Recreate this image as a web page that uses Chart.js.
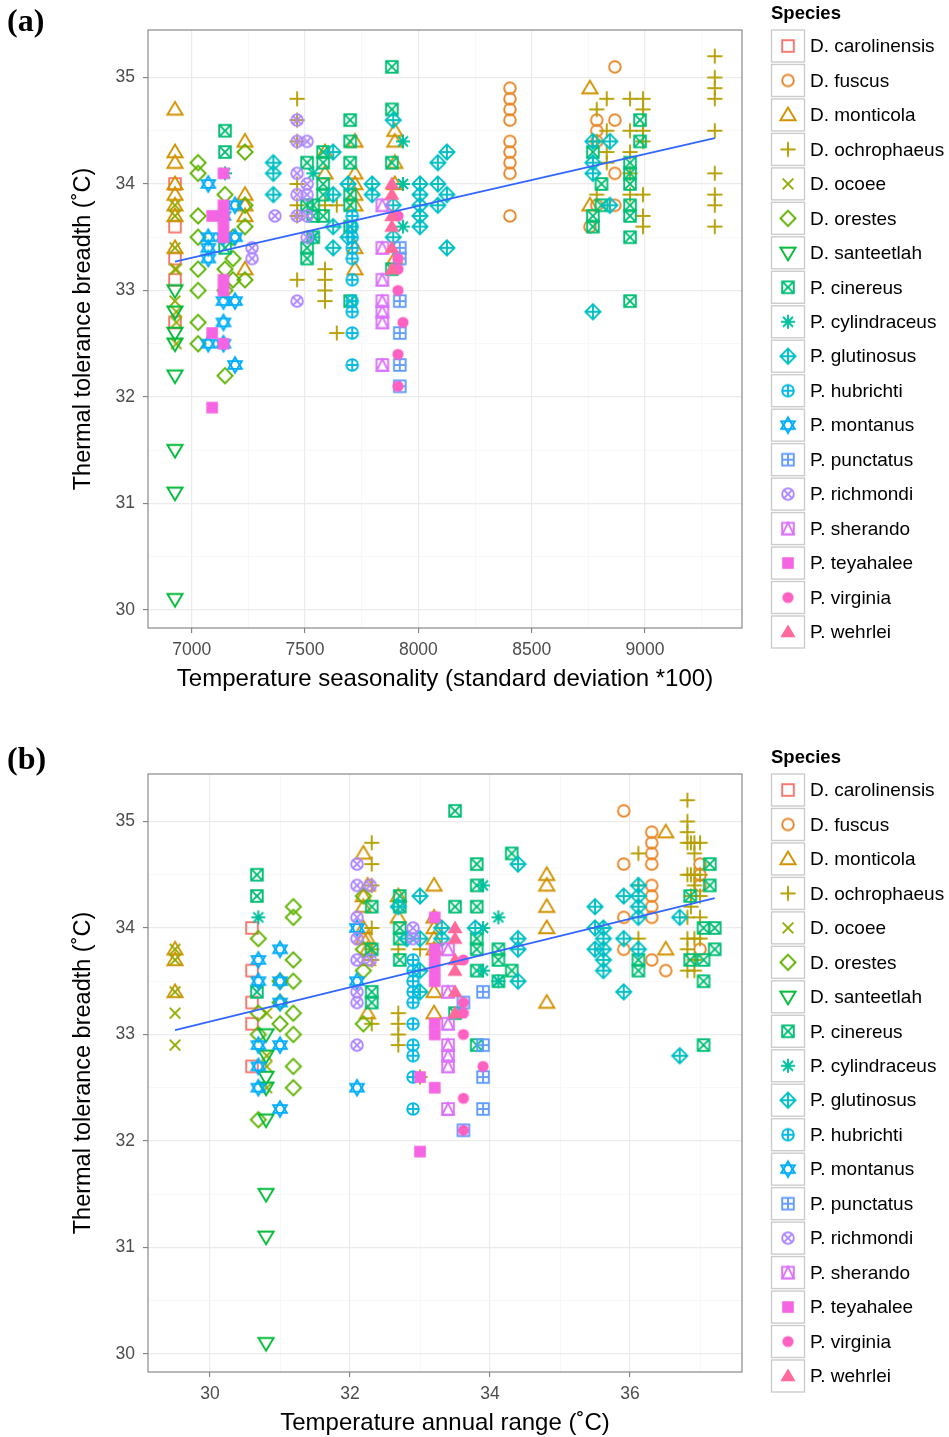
<!DOCTYPE html>
<html>
<head>
<meta charset="utf-8">
<script src="https://cdn.jsdelivr.net/npm/chart.js@4.4.1/dist/chart.umd.min.js"></script>
<style>
  html, body { margin: 0; padding: 0; background: #fff; overflow: hidden; }
  .panel { position: absolute; left: 0; width: 949px; height: 744px; }
  .tag { position: absolute; left: 7px; font: bold 32px "Liberation Serif", "Times New Roman", serif; color: #000; line-height: 1; }
</style>
</head>
<body>
<div class="panel" style="top:0"><canvas id="chartA" width="949" height="744"></canvas></div>
<div class="panel" style="top:744px"><canvas id="chartB" width="949" height="744"></canvas></div>
<div class="tag" style="top:4px">(a)</div>
<div class="tag" style="top:742px">(b)</div>
<script>
// species, colours (ggplot hue palette) and marker codes (R pch 0-17)
const speciesNames = ['D. carolinensis', 'D. fuscus', 'D. monticola', 'D. ochrophaeus', 'D. ocoee',
  'D. orestes', 'D. santeetlah', 'P. cinereus', 'P. cylindraceus', 'P. glutinosus', 'P. hubrichti',
  'P. montanus', 'P. punctatus', 'P. richmondi', 'P. sherando', 'P. teyahalee', 'P. virginia', 'P. wehrlei'];
const speciesColors = ['#F8766D', '#E88526', '#D39200', '#B79F00', '#93AA00', '#5EB300', '#00BA38',
  '#00BF74', '#00C19F', '#00BFC4', '#00B9E3', '#00ADFA', '#619CFF', '#AE87FF', '#DB72FB', '#F564E3',
  '#FF61C3', '#FF699C'];

// axis ticks
const seasonTicks = [7000, 7500, 8000, 8500, 9000];
const rangeTicks = [30, 32, 34, 36];
const breadthTicks = [30, 31, 32, 33, 34, 35];

// (a) temperature seasonality: [site x, [breadth values]]
const seasonCarolinensis = [[6926, [34.0, 33.6, 33.3, 33.1, 32.7]]];
const seasonFuscus = [[8404, [34.9, 34.8, 34.7, 34.6, 34.4, 34.3, 34.2, 34.1, 33.7]], [8757, [33.6]],
  [8787, [34.6, 34.5, 34.4, 33.8]], [8867, [35.1, 34.6, 34.1, 33.8]]];
const seasonMonticola = [[6926, [34.7, 34.3, 34.2, 34.0, 33.9]], [6926, [33.8, 33.7, 33.4]],
  [7235, [34.4, 33.9, 33.8, 33.7, 33.2]], [7588, [34.3, 34.1]], [7720, [34.4, 34.1, 34.0, 33.9, 33.8, 33.4, 33.2]],
  [7896, [34.5, 34.4, 34.2, 34.0, 33.3]], [8757, [34.9, 33.8]]];
const seasonOchrophaeus = [[7465, [34.8, 34.6, 34.4, 34.0, 33.8, 33.7, 33.1]], [7588, [33.8, 33.2, 33.1, 33.0, 32.9]],
  [7640, [33.8, 32.6]], [8787, [34.7, 34.4, 33.9]], [8831, [34.8, 34.5, 34.3, 34.2]],
  [8934, [34.8, 34.5, 34.3, 34.1, 33.9]], [8991, [34.8, 34.7, 34.5, 34.4, 33.9, 33.7, 33.6]],
  [9308, [35.2, 35.0, 34.9, 34.8, 34.5, 34.1, 33.9, 33.8, 33.6]]];
const seasonOcoee = [[6926, [33.8, 33.7, 33.4, 33.2, 32.9]], [6932, [33.2, 32.8, 32.7, 32.5]]];
const seasonOrestes = [[7028, [34.2, 34.1, 33.7, 33.5, 33.2, 33.0, 32.7, 32.5]], [7147, [33.9, 33.2, 33.0, 32.2]],
  [7182, [33.5, 33.3, 33.1]], [7235, [34.3, 33.8, 33.6, 33.1]]];
const seasonSanteetlah = [[6926, [33.0, 32.8, 32.6, 32.5, 32.2, 31.5, 31.1, 30.1]]];
const seasonCinereus = [[7147, [34.5, 34.3, 33.4]], [7509, [34.2, 33.8, 33.4, 33.3]], [7536, [33.8, 33.7, 33.5]],
  [7580, [34.3, 34.2, 34.0, 33.9, 33.7]], [7699, [34.6, 34.4, 34.2, 33.9, 33.8, 33.6, 32.9]],
  [7883, [35.1, 34.7, 34.2, 33.2]], [8770, [34.3, 33.7, 33.6]], [8808, [34.0, 33.8]],
  [8934, [34.2, 34.1, 34.0, 33.8, 33.7, 33.5, 32.9]], [8978, [34.6, 34.4]]];
const seasonCylindraceus = [[7147, [34.1]], [7536, [34.1, 33.5]], [7932, [34.4, 34.0, 33.6]]];
const seasonGlutinosus = [[7360, [34.2, 34.1, 33.9]], [7624, [34.3, 33.9, 33.6, 33.4]], [7690, [34.0, 33.5]],
  [7796, [34.0, 33.9]], [7889, [34.6, 33.8, 33.5]], [8007, [34.0, 33.9, 33.8, 33.7, 33.6]],
  [8086, [34.2, 34.0, 33.8]], [8126, [34.3, 33.9, 33.4]], [8770, [34.4, 34.2, 34.1, 32.8]], [8845, [34.4, 33.8]]];
const seasonHubrichti = [[7708, [33.7, 33.6, 33.5, 33.4, 33.3, 33.1, 32.9, 32.8, 32.6, 32.3]]];
const seasonMontanus = [[7073, [34.0, 33.5, 33.4, 33.3, 32.5]], [7140, [33.7, 33.5, 32.9, 32.7, 32.5]],
  [7191, [33.8, 33.5, 32.9, 32.3]]];
const seasonPunctatus = [[7918, [33.4, 33.3, 32.9, 32.6, 32.3, 32.1]]];
const seasonRichmondi = [[7266, [33.4, 33.3]], [7367, [33.7]], [7465, [34.6, 34.4, 34.1, 33.9, 33.7, 32.9]],
  [7509, [34.4, 34.0, 33.9, 33.7, 33.5]]];
const seasonSherando = [[7841, [33.8, 33.4, 33.1, 32.9, 32.8, 32.7, 32.3]]];
const seasonTeyahalee = [[7090, [33.7, 32.6, 31.9]], [7140, [34.1, 33.8, 33.7, 33.6, 33.5, 33.1, 33.0, 32.5]]];
const seasonVirginia = [[7910, [33.7, 33.3, 33.2, 33.0, 32.4, 32.1]], [7932, [32.7]]];
const seasonWehrlei = [[7883, [34.0, 33.9, 33.7, 33.6, 33.4, 33.2]]];
const seasonFit = [[6926, 33.27], [9308, 34.43]];

// (b) temperature annual range
const rangeCarolinensis = [[30.6, [34.0, 33.6, 33.3, 33.1, 32.7]]];
const rangeFuscus = [[36.31, [34.9, 34.8, 34.7, 34.6, 34.4, 34.3, 34.2, 34.1, 33.7]], [36.51, [33.6]],
  [37.0, [34.6, 34.5, 34.4, 33.8]], [35.91, [35.1, 34.6, 34.1, 33.8]]];
const rangeMonticola = [[32.19, [34.7, 34.3, 34.2, 34.0, 33.9]], [29.5, [33.8, 33.7, 33.4]],
  [32.25, [34.4, 33.9, 33.8, 33.7, 33.2]], [32.69, [34.3, 34.1]], [33.2, [34.4, 34.1, 34.0, 33.9, 33.8, 33.4, 33.2]],
  [34.81, [34.5, 34.4, 34.2, 34.0, 33.3]], [36.51, [34.9, 33.8]]];
const rangeOchrophaeus = [[32.31, [34.8, 34.6, 34.4, 34.0, 33.8, 33.7, 33.1]], [32.69, [33.8, 33.2, 33.1, 33.0, 32.9]],
  [33.0, [33.8, 32.6]], [36.12, [34.7, 34.4, 33.9]], [36.87, [34.8, 34.5, 34.3, 34.2]],
  [37.0, [34.8, 34.5, 34.3, 34.1, 33.9]], [36.92, [34.8, 34.7, 34.5, 34.4, 33.9, 33.7, 33.6]],
  [36.82, [35.2, 35.0, 34.9, 34.8, 34.5, 34.1, 33.9, 33.8, 33.6]]];
const rangeOcoee = [[29.5, [33.8, 33.7, 33.4, 33.2, 32.9]], [30.81, [33.2, 32.8, 32.7, 32.5]]];
const rangeOrestes = [[31.19, [34.2, 34.1, 33.7, 33.5, 33.2, 33.0, 32.7, 32.5]], [30.69, [33.9, 33.2, 33.0, 32.2]],
  [31.0, [33.5, 33.3, 33.1]], [32.19, [34.3, 33.8, 33.6, 33.1]]];
const rangeSanteetlah = [[30.8, [33.0, 32.8, 32.6, 32.5, 32.2, 31.5, 31.1, 30.1]]];
const rangeCinereus = [[30.67, [34.5, 34.3, 33.4]], [32.31, [34.2, 33.8, 33.4, 33.3]], [34.12, [33.8, 33.7, 33.5]],
  [32.71, [34.3, 34.2, 34.0, 33.9, 33.7]], [33.81, [34.6, 34.4, 34.2, 33.9, 33.8, 33.6, 32.9]],
  [33.5, [35.1, 34.2, 33.2]], [34.31, [34.7, 33.6]], [36.12, [33.7, 33.6]], [36.86, [34.3, 33.7]],
  [37.05, [34.0, 33.7, 33.5, 32.9]], [37.14, [34.6, 34.4]], [37.21, [34.0, 33.8]]];
const rangeCylindraceus = [[30.69, [34.1]], [34.12, [34.1, 33.5]], [33.9, [34.4, 34.0, 33.6]]];
const rangeGlutinosus = [[32.69, [34.2]], [32.81, [33.9]], [33.0, [34.3, 33.9, 33.6, 33.4]], [33.31, [34.0, 33.9]],
  [33.79, [34.0]], [34.4, [34.6, 33.9, 33.8, 33.5]], [35.5, [34.2, 34.0, 33.8]],
  [35.62, [34.0, 33.9, 33.8, 33.7, 33.6]], [35.91, [34.3, 33.9, 33.4]], [36.12, [34.4, 34.3, 34.2, 34.1, 33.8]],
  [36.71, [34.1, 32.8]]];
const rangeHubrichti = [[32.9, [33.7, 33.6, 33.5, 33.4, 33.3, 33.1, 32.9, 32.8, 32.6, 32.3]]];
const rangeMontanus = [[32.1, [34.0, 33.5, 32.5]], [30.69, [33.7, 33.5, 32.9, 32.7, 32.5]],
  [31.0, [33.8, 33.5, 33.3, 32.9, 32.3]]];
const rangePunctatus = [[33.9, [33.4, 32.9, 32.6, 32.3]], [33.62, [33.3, 32.1]]];
const rangeRichmondi = [[32.1, [34.6, 34.4, 34.1, 33.9, 33.7, 33.4, 33.3, 32.9]], [32.29, [34.4, 33.7]],
  [32.9, [34.0, 33.9]]];
const rangeSherando = [[33.4, [33.8, 33.4, 33.1, 32.9, 32.8, 32.7, 32.3]]];
const rangeTeyahalee = [[33.0, [32.6, 31.9]], [33.21, [34.1, 33.8, 33.7, 33.6, 33.5, 33.1, 33.0, 32.5]]];
const rangeVirginia = [[33.62, [33.7, 33.3, 33.2, 33.0, 32.4, 32.1]], [33.9, [32.7]]];
const rangeWehrlei = [[33.5, [34.0, 33.9, 33.7, 33.6, 33.4, 33.2]]];
const rangeFit = [[29.5, 33.04], [37.21, 34.28]];

const seasonData = [seasonCarolinensis, seasonFuscus, seasonMonticola, seasonOchrophaeus, seasonOcoee,
  seasonOrestes, seasonSanteetlah, seasonCinereus, seasonCylindraceus, seasonGlutinosus, seasonHubrichti,
  seasonMontanus, seasonPunctatus, seasonRichmondi, seasonSherando, seasonTeyahalee, seasonVirginia, seasonWehrlei];
const rangeData = [rangeCarolinensis, rangeFuscus, rangeMonticola, rangeOchrophaeus, rangeOcoee,
  rangeOrestes, rangeSanteetlah, rangeCinereus, rangeCylindraceus, rangeGlutinosus, rangeHubrichti,
  rangeMontanus, rangePunctatus, rangeRichmondi, rangeSherando, rangeTeyahalee, rangeVirginia, rangeWehrlei];

// draws one R-style plotting symbol centred on (0,0)
function drawShape(ctx, shape, color) {
  const r = 5.8;
  ctx.strokeStyle = color;
  ctx.fillStyle = color;
  ctx.lineWidth = 1.9;
  ctx.lineJoin = 'miter';
  const line = (x1, y1, x2, y2) => { ctx.beginPath(); ctx.moveTo(x1, y1); ctx.lineTo(x2, y2); ctx.stroke(); };
  const poly = (pts) => { ctx.beginPath(); ctx.moveTo(pts[0][0], pts[0][1]); pts.slice(1).forEach(p => ctx.lineTo(p[0], p[1])); ctx.closePath(); };
  const square = () => ctx.strokeRect(-r, -r, 2 * r, 2 * r);
  const circle = (rad) => { ctx.beginPath(); ctx.arc(0, 0, rad, 0, Math.PI * 2); };
  const plus = (a) => { line(-a, 0, a, 0); line(0, -a, 0, a); };
  const cross = (a) => { line(-a, -a, a, a); line(-a, a, a, -a); };
  const diamond = () => { poly([[0, -7.6], [7.6, 0], [0, 7.6], [-7.6, 0]]); ctx.stroke(); };
  switch (shape) {
    case 0: square(); break;
    case 1: circle(r); ctx.stroke(); break;
    case 2: poly([[0, -7.4], [7.6, 5.3], [-7.6, 5.3]]); ctx.stroke(); break;
    case 3: plus(7.6); break;
    case 4: cross(5.3); break;
    case 5: diamond(); break;
    case 6: poly([[0, 7.4], [7.6, -5.3], [-7.6, -5.3]]); ctx.stroke(); break;
    case 7: square(); cross(r); break;
    case 8: plus(7); cross(5); break;
    case 9: diamond(); plus(7.6); break;
    case 10: circle(r); ctx.stroke(); plus(r); break;
    case 11:
      poly([[0, -7.8], [6.8, 3.9], [-6.8, 3.9]]); ctx.stroke();
      poly([[0, 7.8], [6.8, -3.9], [-6.8, -3.9]]); ctx.stroke();
      break;
    case 12: square(); plus(r); break;
    case 13: circle(r); ctx.stroke(); cross(r * 0.707); break;
    case 14: square(); poly([[-r, r], [0, -r], [r, r]]); ctx.stroke(); break;
    case 15: ctx.fillRect(-r, -r, 2 * r, 2 * r); break;
    case 16: circle(5.6); ctx.fill(); break;
    case 17: poly([[0, -7.4], [7.6, 5.3], [-7.6, 5.3]]); ctx.fill(); break;
  }
}

function makeMarker(shape, color) {
  const c = document.createElement('canvas');
  c.width = 22;
  c.height = 22;
  const ctx = c.getContext('2d');
  ctx.translate(11, 11);
  drawShape(ctx, shape, color);
  return c;
}
const markers = speciesNames.map((n, i) => makeMarker(i, speciesColors[i]));

function toPoints(columns) {
  return columns.flatMap(([x, ys]) => ys.map(y => ({ x: x, y: y })));
}

function withMinors(major, lo, hi) {
  const step = (major[1] - major[0]) / 2;
  const out = [];
  for (let v = major[0] - step; v <= hi + 1e-9; v += step) {
    if (v >= lo) out.push(+v.toFixed(4));
  }
  return out;
}
const isMajor = (major, v) => major.some(m => Math.abs(m - v) < 1e-6);

// panel border plus the species key on the right
const framePlugin = {
  id: 'frame',
  afterDraw(chart) {
    const ctx = chart.ctx;
    const a = chart.chartArea;
    ctx.save();
    ctx.strokeStyle = '#7F7F7F';
    ctx.lineWidth = 1.1;
    ctx.strokeRect(a.left, a.top, a.right - a.left, a.bottom - a.top);

    ctx.fillStyle = '#000';
    ctx.font = 'bold 18.5px "Liberation Sans", Arial, sans-serif';
    ctx.textBaseline = 'middle';
    ctx.textAlign = 'left';
    ctx.fillText('Species', 771, 14);
    ctx.font = '19px "Liberation Sans", Arial, sans-serif';
    speciesNames.forEach((name, i) => {
      const top = 29.5 + i * 34.47;
      ctx.fillStyle = '#fff';
      ctx.fillRect(771, top, 34, 33);
      ctx.strokeStyle = '#CCCCCC';
      ctx.lineWidth = 1.4;
      ctx.strokeRect(771.5, top + 0.5, 33, 32);
      ctx.drawImage(markers[i], 788 - 11, top + 16.5 - 11);
      ctx.fillStyle = '#000';
      ctx.fillText(name, 810, top + 17.5);
    });
    ctx.restore();
  }
};

function buildChart(canvasId, series, fit, xMin, xMax, xMajor, xTitle) {
  const yMin = 29.83, yMax = 35.446;
  const xAll = withMinors(xMajor, xMin, xMax);
  const yAll = withMinors(breadthTicks, yMin, yMax);

  const datasets = series.map((cols, i) => ({
    label: speciesNames[i],
    data: toPoints(cols),
    pointStyle: markers[i],
    pointRadius: 6,
    pointHoverRadius: 6,
    showLine: false,
    order: 100 - i
  }));
  datasets.push({
    label: 'fit',
    data: fit.map(p => ({ x: p[0], y: p[1] })),
    showLine: true,
    borderColor: '#3366FF',
    borderWidth: 1.8,
    pointRadius: 0,
    order: 0
  });

  const axisGrid = (major) => ({
    color: c => isMajor(major, c.tick.value) ? '#EBEBEB' : '#F6F6F6',
    lineWidth: c => isMajor(major, c.tick.value) ? 1.2 : 0.8,
    tickColor: c => isMajor(major, c.tick.value) ? '#7F7F7F' : 'rgba(0,0,0,0)',
    tickLength: 5,
    tickWidth: 1.1,
    drawTicks: true
  });

  return new Chart(document.getElementById(canvasId), {
    type: 'scatter',
    data: { datasets: datasets },
    options: {
      responsive: false,
      animation: false,
      events: [],
      layout: { padding: { left: 0, top: 30, right: 207, bottom: 50 } },
      plugins: { legend: { display: false }, tooltip: { enabled: false } },
      scales: {
        x: {
          type: 'linear',
          min: xMin,
          max: xMax,
          afterBuildTicks: s => { s.ticks = xAll.map(v => ({ value: v })); },
          afterFit: s => { s.height = 66; },
          grid: axisGrid(xMajor),
          border: { display: false },
          ticks: {
            autoSkip: false,
            maxRotation: 0,
            padding: 7,
            color: '#4D4D4D',
            font: { size: 17.5 },
            callback: v => isMajor(xMajor, v) ? String(v) : ''
          },
          title: { display: true, text: xTitle, color: '#000', font: { size: 24 }, padding: { top: 0, bottom: 0 } }
        },
        y: {
          type: 'linear',
          min: yMin,
          max: yMax,
          afterBuildTicks: s => { s.ticks = yAll.map(v => ({ value: v })); },
          afterFit: s => { s.width = 148; },
          grid: axisGrid(breadthTicks),
          border: { display: false },
          ticks: {
            autoSkip: false,
            padding: 8,
            color: '#4D4D4D',
            font: { size: 17.5 },
            callback: v => isMajor(breadthTicks, v) ? String(v) : ''
          },
          title: { display: true, text: 'Thermal tolerance breadth (˚C)', color: '#000', font: { size: 23.5 }, padding: { top: 69, bottom: 0 } }
        }
      }
    },
    plugins: [framePlugin]
  });
}

Chart.defaults.font.family = '"Liberation Sans", Arial, sans-serif';

buildChart('chartA', seasonData, seasonFit, 6807, 9428, seasonTicks,
  'Temperature seasonality (standard deviation *100)');
buildChart('chartB', rangeData, rangeFit, 29.114, 37.6, rangeTicks,
  'Temperature annual range (˚C)');
</script>
</body>
</html>
